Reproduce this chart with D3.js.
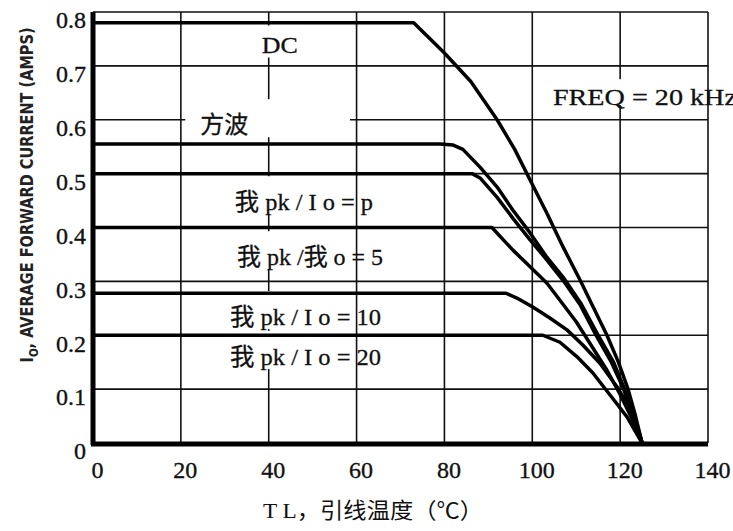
<!DOCTYPE html>
<html>
<head>
<meta charset="utf-8">
<script src="https://cdn.jsdelivr.net/npm/d3@7"></script>
<style>
  body { margin: 0; background: #fff; }
  .tick text { font-family: "Liberation Serif", "Times New Roman", serif; font-size: 24px; fill: #111; stroke: #111; stroke-width: 0.35; }
  .lbl { font-family: "Liberation Serif", "Noto Sans CJK SC", serif; font-size: 24px; fill: #111; stroke: #111; stroke-width: 0.3; }
  .grid { stroke: #111; stroke-width: 1.6; }
  .curve { fill: none; stroke: #000; stroke-width: 3.5; stroke-linejoin: round; }
</style>
</head>
<body>
<script>
// axis ticks
const xTicks = [0, 20, 40, 60, 80, 100, 120, 140];
const yTicks = [0, 0.1, 0.2, 0.3, 0.4, 0.5, 0.6, 0.7, 0.8];

// derating curves: [lead temperature °C, average current A]
const dcCurve = [[0, 0.78], [73, 0.78], [80, 0.724], [86, 0.671], [92, 0.6], [96, 0.545], [99.5, 0.488],
  [103.3, 0.427], [107, 0.364], [110.9, 0.302], [114, 0.25], [117, 0.2], [119.6, 0.15], [121.8, 0.1], [123.5, 0.05], [125, 0]];
const squareCurve = [[0, 0.555], [79, 0.555], [82, 0.553], [84.2, 0.545], [88.1, 0.512], [92, 0.475], [95.6, 0.432],
  [99.5, 0.39], [103.3, 0.345], [107, 0.308], [111, 0.26], [115, 0.2], [118.5, 0.15], [121, 0.1], [123.2, 0.05], [125, 0]];
const piCurve = [[0, 0.5], [86.3, 0.5], [88.1, 0.492], [92, 0.456], [95.6, 0.417], [99.5, 0.377], [103.3, 0.34],
  [107, 0.302], [111, 0.255], [114.5, 0.2], [118, 0.15], [120.8, 0.1], [123, 0.05], [125, 0]];
const pk5Curve = [[0, 0.4], [90.8, 0.4], [95.6, 0.358], [99.5, 0.327], [103.3, 0.297], [106.3, 0.265], [110, 0.225],
  [113.5, 0.18], [117, 0.135], [120, 0.09], [122.7, 0.045], [125, 0]];
const pk10Curve = [[0, 0.278], [94, 0.278], [96.5, 0.269], [100.2, 0.252], [104, 0.232], [107.9, 0.21], [111.5, 0.182],
  [115.4, 0.148], [119.3, 0.104], [122.9, 0.056], [125, 0]];
const pk20Curve = [[0, 0.2], [102.4, 0.2], [106.3, 0.187], [110.2, 0.16], [113.8, 0.13], [117.7, 0.089], [121.6, 0.048], [125, 0]];

const curveLabels = ["DC", "方波", "我 pk / I o = p", "我 pk /我 o = 5", "我 pk / I o = 10", "我 pk / I o = 20"];
const freqLabel = "FREQ = 20 kHz";
const xTitle = "T L，引线温度（℃）";

const W = 733, H = 531;
const margin = { top: 12, right: 25, bottom: 88, left: 93 };

const x = d3.scaleLinear().domain([0, 140]).range([margin.left, W - margin.right]);
const y = d3.scaleLinear().domain([0, 0.8]).range([H - margin.bottom, margin.top]);

const svg = d3.select("body").append("svg")
  .attr("width", W)
  .attr("height", H);

// grid
const grid = svg.append("g");
grid.selectAll(".vg").data(xTicks.slice(1)).enter().append("line")
  .attr("class", "grid")
  .attr("x1", d => x(d)).attr("x2", d => x(d))
  .attr("y1", y(0)).attr("y2", y(0.8));
grid.selectAll(".hg").data(yTicks.slice(1)).enter().append("line")
  .attr("class", "grid")
  .attr("x1", x(0)).attr("x2", x(140))
  .attr("y1", d => y(d)).attr("y2", d => y(d));

// curve labels (white boxes behind them cut the grid)
const labelPos = [
  { x: 42.5, y: 0.723, anchor: "middle", len: 36 },
  { x: 29.9, y: 0.575, anchor: "middle", len: 48 },
  { x: 32.3, y: 0.432, anchor: "start", len: 138 },
  { x: 32.8, y: 0.33, anchor: "start", len: 146 },
  { x: 31.2, y: 0.219, anchor: "start", len: 151 },
  { x: 31.2, y: 0.145, anchor: "start", len: 151 }
];
const boxes = svg.append("g");
const labels = svg.append("g");
curveLabels.forEach((t, i) => {
  const p = labelPos[i];
  const el = labels.append("text")
    .attr("class", "lbl")
    .attr("x", x(p.x))
    .attr("y", y(p.y))
    .attr("text-anchor", p.anchor)
    .attr("textLength", p.len)
    .attr("lengthAdjust", "spacingAndGlyphs")
    .text(t);
  const b = el.node().getBBox();
  let x0 = b.x - 6, x1 = x(59), y0 = y(p.y) - 34, y1 = y(p.y) + 4;
  if (i === 0) { x0 = b.x - 4; x1 = b.x + b.width + 4; y0 = y(p.y) - 28; }
  if (i === 1) { x0 = x(21); x1 = x(58.5); }
  boxes.append("rect")
    .attr("x", x0).attr("y", y0)
    .attr("width", x1 - x0).attr("height", y1 - y0)
    .attr("fill", "#fff");
});

const freq = labels.append("text")
  .attr("class", "lbl")
  .attr("x", x(104.7))
  .attr("y", y(0.627))
  .attr("textLength", 184)
  .attr("lengthAdjust", "spacingAndGlyphs")
  .text(freqLabel);
const fb = freq.node().getBBox();
boxes.append("rect")
  .attr("x", fb.x - 3).attr("y", y(0.64) - 19)
  .attr("width", x(137) - fb.x).attr("height", 26)
  .attr("fill", "#fff");

// curves
const line = d3.line()
  .x(d => x(d[0]))
  .y(d => y(d[1]));

svg.append("g").selectAll("path")
  .data([dcCurve, squareCurve, piCurve, pk5Curve, pk10Curve, pk20Curve])
  .enter().append("path")
  .attr("class", "curve")
  .attr("d", line);

// thick axes
svg.append("line")
  .attr("x1", x(0)).attr("x2", x(0))
  .attr("y1", y(0.8)).attr("y2", y(0) + 2)
  .attr("stroke", "#000").attr("stroke-width", 5);
svg.append("line")
  .attr("x1", x(0) - 2).attr("x2", x(140))
  .attr("y1", y(0) + 1).attr("y2", y(0) + 1)
  .attr("stroke", "#000").attr("stroke-width", 5);

// tick labels
const yAxis = svg.append("g")
  .attr("transform", `translate(${x(0)},0)`)
  .call(d3.axisLeft(y).tickValues(yTicks).tickSize(0).tickPadding(7)
    .tickFormat(d => d === 0 ? "0" : d3.format(".1f")(d)));
yAxis.select(".domain").remove();
yAxis.selectAll("text").attr("dy", "0.66em");

const xAxis = svg.append("g")
  .attr("transform", `translate(0,${y(0)})`)
  .call(d3.axisBottom(x).tickValues(xTicks).tickSize(0).tickPadding(18));
xAxis.select(".domain").remove();
xAxis.selectAll("text").attr("x", 4);

// axis titles
svg.append("text")
  .attr("x", 373)
  .attr("y", 518)
  .attr("text-anchor", "middle")
  .attr("textLength", 220)
  .attr("lengthAdjust", "spacingAndGlyphs")
  .style("font-family", "'Liberation Serif', 'Noto Sans CJK SC', serif")
  .style("font-size", "22px")
  .attr("fill", "#111")
  .text(xTitle);

const yTitle = svg.append("text")
  .attr("transform", "rotate(-90)")
  .attr("x", -195)
  .attr("y", 33)
  .attr("text-anchor", "middle")
  .attr("textLength", 335)
  .attr("lengthAdjust", "spacingAndGlyphs")
  .style("font-family", "'DejaVu Sans Condensed', 'Liberation Sans Narrow', sans-serif")
  .style("font-size", "17px")
  .style("font-weight", "bold")
  .attr("fill", "#222");
yTitle.append("tspan").text("I");
yTitle.append("tspan").attr("dy", 5).style("font-size", "12px").text("O");
yTitle.append("tspan").attr("dy", -5).text(", AVERAGE FORWARD CURRENT (AMPS)");
</script>
</body>
</html>
